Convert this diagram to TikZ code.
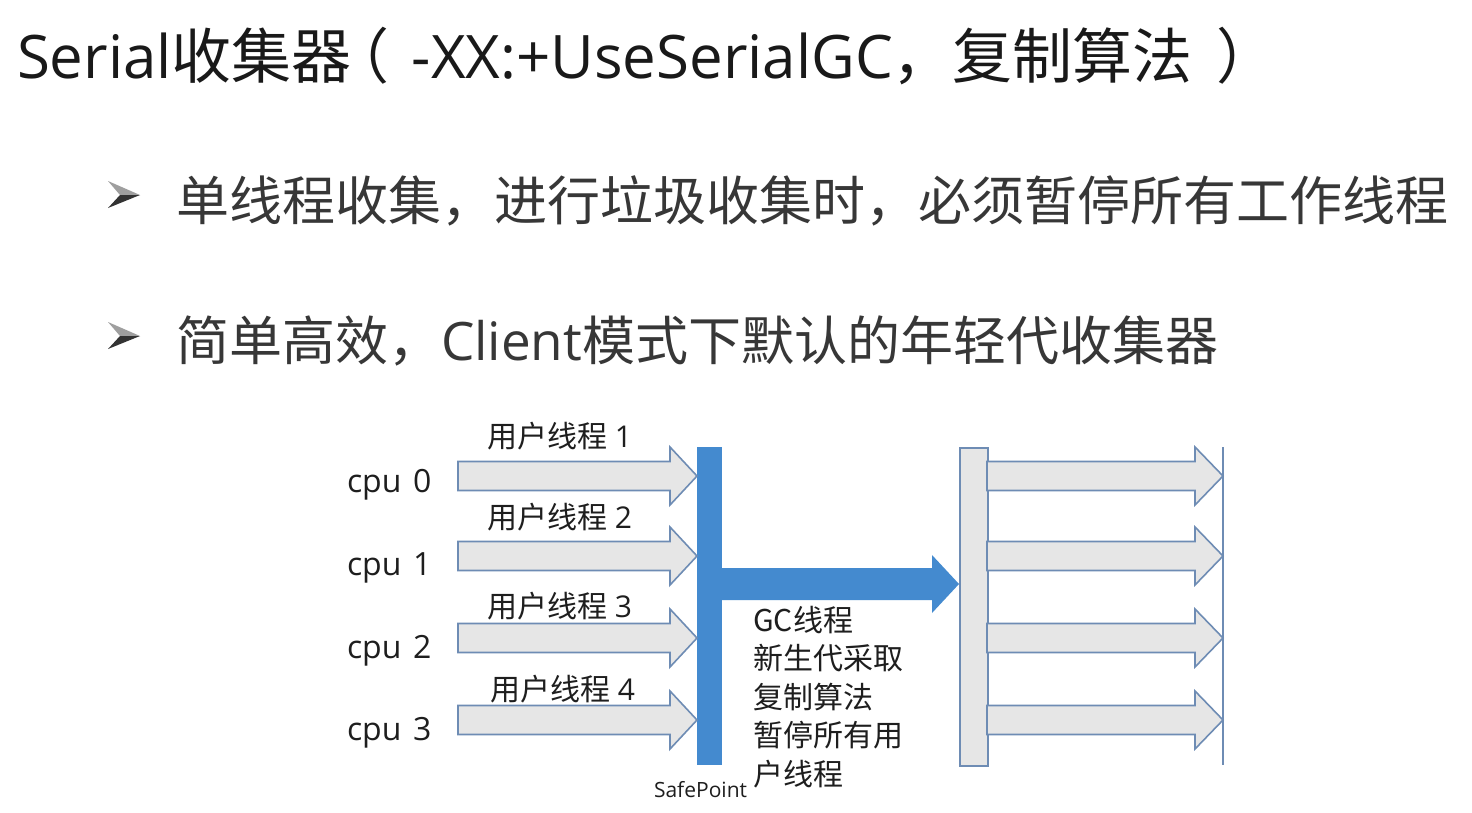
\documentclass[tikz,border=0pt]{standalone}
\usepackage{fontspec}
\setmainfont{Open Sans}
\newfontfamily\cjk{Noto Sans CJK SC}
\definecolor{bluebar}{RGB}{68,138,207}
\definecolor{arrowgray}{RGB}{230,230,230}
\definecolor{arrowedge}{RGB}{110,140,180}
\definecolor{titletext}{RGB}{25,25,25}
\definecolor{bullettext}{RGB}{55,55,55}
\definecolor{diagtext}{RGB}{30,30,30}
\tikzset{
  txt/.style={anchor=base west, inner sep=0pt, outer sep=0pt},
  garrow/.style={fill=arrowgray, draw=arrowedge, line width=1.6pt, line join=miter},
  barblue/.style={fill=bluebar, draw=none, inner sep=0pt, minimum width=25pt, minimum height=318pt},
  bargray/.style={fill=arrowgray, draw=arrowedge, line width=1.6pt, inner sep=0pt, minimum width=28pt, minimum height=318pt},
}
% block arrow: #1 start x, #2 head base x, #3 tip x, #4 centre y, #5 shaft half, #6 head half, #7 style
\newcommand{\blockarrow}[7]{%
  \path[#7] (#1,#4-#5) -- (#2,#4-#5) -- (#2,#4-#6) -- (#3,#4) -- (#2,#4+#6) -- (#2,#4+#5) -- (#1,#4+#5) -- cycle;}
\newcommand{\bulletmark}[1]{%
  \fill[gray!75] (108,#1-14) -- (140,#1) -- (120,#1) -- cycle;
  \fill[black!80] (108,#1+13) -- (140,#1) -- (120,#1) -- cycle;}
\begin{document}
\begin{tikzpicture}[x=1pt,y=-1pt]
\useasboundingbox (0,0) rectangle (1472,812);
\fill[white] (0,0) rectangle (1472,812);

% title
\node[txt, text=titletext, font=\fontsize{60}{60}\selectfont] (title) at (17,78)
  {Serial{\cjk 收集器}\kern-0.38em{\cjk（}\kern0.38em-XX:+UseSerialGC{\cjk ，复制算法}\kern0.4em{\cjk ）}};

% bullets
\bulletmark{195}
\node[txt, text=bullettext, font=\fontsize{53}{53}\selectfont] (b1) at (176,220)
  {{\cjk 单线程收集，进行垃圾收集时，必须暂停所有工作线程}};
\bulletmark{336}
\node[txt, text=bullettext, font=\fontsize{53}{53}\selectfont] (b2) at (176,360)
  {{\cjk 简单高效，}Client{\cjk 模式下默认的年轻代收集器}};

% bars
\node[barblue, anchor=north west] (safe) at (697,447) {};
\node[bargray, anchor=north west] (resume) at (959,447) {};
\draw[arrowedge, line width=1.4pt] (1223,447) coordinate (lt) -- (1223,765) coordinate (lb);

% arrows and cpu labels
\foreach \i/\y/\cb in {0/476/492, 1/556/575, 2/638/658, 3/720/740}{
  \blockarrow{458}{670}{697}{\y}{14.5}{29}{garrow}
  \blockarrow{987}{1195}{1223}{\y}{14.5}{29}{garrow}
  \node[txt, text=diagtext, font=\fontsize{32}{32}\selectfont] (cpu\i) at (347,\cb) {cpu\hspace{0.36em}\i};
}
\node[txt, text=diagtext, font=\fontsize{30}{30}\selectfont] (u1) at (487,447) {{\cjk 用户线程} 1};
\node[txt, text=diagtext, font=\fontsize{30}{30}\selectfont] (u2) at (487,528) {{\cjk 用户线程} 2};
\node[txt, text=diagtext, font=\fontsize{30}{30}\selectfont] (u3) at (487,617) {{\cjk 用户线程} 3};
\node[txt, text=diagtext, font=\fontsize{30}{30}\selectfont] (u4) at (490,700) {{\cjk 用户线程} 4};

% GC arrow
\blockarrow{722}{932}{959}{584}{16}{29}{fill=bluebar}

% GC text
\node[anchor=north west, inner sep=0pt, align=left, text=diagtext,
      font=\fontsize{30}{38.5}\selectfont\cjk] (gc) at (753,606)
  {GC线程\\新生代采取\\复制算法\\暂停所有用\\户线程};

\node[txt, text=diagtext, font=\fontsize{21}{21}\selectfont] (sp) at (654,797) {SafePoint};
\end{tikzpicture}
\end{document}
